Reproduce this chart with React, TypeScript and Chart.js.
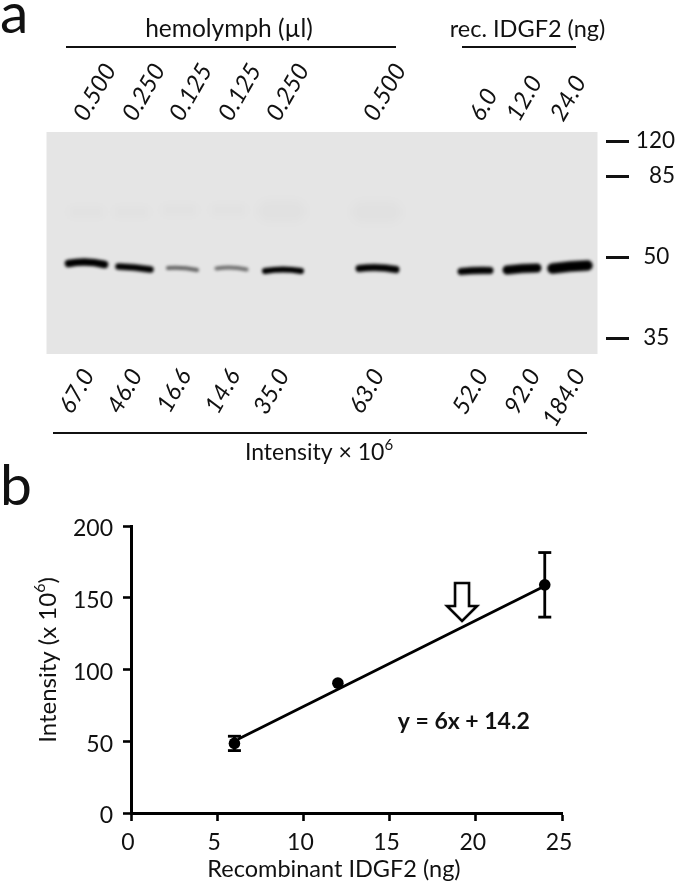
import React, { useEffect, useRef } from "react";
import { Chart, registerables } from "chart.js";

Chart.register(...registerables);

// ---- Panel a: blot ----
const doseHemolymph = ["0.500", "0.250", "0.125", "0.125", "0.250", "0.500"];
const doseRecombinant = ["6.0", "12.0", "24.0"];
const doseLabels = [...doseHemolymph, ...doseRecombinant];
const intensityLabels = ["67.0", "46.0", "16.6", "14.6", "35.0", "63.0", "52.0", "92.0", "184.0"];
const laneCentres = [40, 88, 136, 185, 236.5, 331, 429, 475.5, 523.5];
const bandMigration = [132, 136, 137, 137, 139, 137, 139, 137, 135];
const doseTickPositions = [58, 107, 154, 203, 251, 348, 454, 491, 535];
const intensityTickPositions = [42, 90, 139, 188, 237, 332, 436, 488, 533];
const markerKDa = [120, 85, 50, 35];
const markerMigration = [9, 44, 125, 206];
const smearLanes = [40, 85, 133, 182, 235, 330];
const smearMigration = [80, 80, 78, 78, 79, 80];

// ---- Panel b: calibration ----
const recombinantNg = [6, 12, 24];
const meanIntensity = [48.5, 90.5, 159];
const errorIntensity = [5, 0, 22.5];
const fitX = [6.2, 24];
const fitY = [51.4, 158.2];
const arrowAt = { x: 19.2, y: 147 };
const BLOT_W = 551;
const BLOT_H = 222;
const FONT = "Lato, Carlito, Calibri, sans-serif";

const bandShapes = [
  { w: 36, t: 7.5, tilt: 1, arch: -2 },
  { w: 32, t: 6.5, tilt: 3, arch: -0.5 },
  { w: 29, t: 4, tilt: 2, arch: -1 },
  { w: 30, t: 4, tilt: 1, arch: -1.5 },
  { w: 36, t: 6, tilt: 0, arch: -1.5 },
  { w: 37, t: 7, tilt: 1, arch: -1.5 },
  { w: 29, t: 7, tilt: -1, arch: -0.5 },
  { w: 30, t: 9, tilt: -2, arch: -0.5 },
  { w: 35, t: 10.5, tilt: -3, arch: -0.5 },
];

function bandSprite(shape: any, alpha: number, blur: number, color = "0,0,0") {
  const c = document.createElement("canvas");
  c.width = Math.ceil(shape.w + 40);
  c.height = Math.ceil(shape.t + 40);
  const g = c.getContext("2d")!;
  g.filter = `blur(${blur}px)`;
  g.strokeStyle = `rgba(${color},${alpha})`;
  g.lineCap = "round";
  g.lineWidth = shape.t;
  const cx = c.width / 2;
  const cy = c.height / 2;
  g.beginPath();
  g.moveTo(cx - shape.w / 2, cy - shape.tilt / 2);
  g.quadraticCurveTo(cx, cy + shape.arch * 2, cx + shape.w / 2, cy + shape.tilt / 2);
  g.stroke();
  return c;
}

function arrowSprite() {
  const c = document.createElement("canvas");
  c.width = 40;
  c.height = 46;
  const g = c.getContext("2d")!;
  const m = 20;
  g.fillStyle = "#fff";
  g.strokeStyle = "#000";
  g.lineWidth = 2.6;
  g.lineJoin = "miter";
  g.beginPath();
  g.moveTo(m - 7, 4);
  g.lineTo(m + 7, 4);
  g.lineTo(m + 7, 27);
  g.lineTo(m + 15, 27);
  g.lineTo(m, 42);
  g.lineTo(m - 15, 27);
  g.lineTo(m - 7, 27);
  g.closePath();
  g.fill();
  g.stroke();
  return c;
}

// draws base text followed by a raised exponent, both centred as one run
function textWithExponent(ctx: any, base: string, exp: string, tail: string, x: number, y: number, size: number) {
  const expSize = Math.round(size * 0.65);
  ctx.font = `normal ${size}px ${FONT}`;
  const a = ctx.measureText(base).width;
  const c = ctx.measureText(tail).width;
  ctx.font = `normal ${expSize}px ${FONT}`;
  const b = ctx.measureText(exp).width;
  let px = x - (a + b + c) / 2;
  ctx.textAlign = "left";
  ctx.textBaseline = "middle";
  ctx.font = `normal ${size}px ${FONT}`;
  ctx.fillText(base, px, y);
  px += a;
  ctx.font = `normal ${expSize}px ${FONT}`;
  ctx.fillText(exp, px, y - size * 0.32);
  px += b;
  ctx.font = `normal ${size}px ${FONT}`;
  if (tail) ctx.fillText(tail, px, y);
}

const blotDecor = {
  id: "blotDecor",
  beforeDatasetsDraw(chart: any) {
    const { ctx, scales } = chart;
    const x = scales.x;
    const y = scales.y;
    ctx.save();
    ctx.fillStyle = "#e5e5e5";
    ctx.fillRect(x.getPixelForValue(0), y.getPixelForValue(0), x.getPixelForValue(BLOT_W) - x.getPixelForValue(0), y.getPixelForValue(BLOT_H) - y.getPixelForValue(0));
    ctx.restore();
  },
  afterDraw(chart: any) {
    const { ctx } = chart;
    ctx.save();
    ctx.fillStyle = "#111";
    ctx.strokeStyle = "#111";
    ctx.textBaseline = "middle";
    ctx.textAlign = "center";
    ctx.font = `normal 24.5px ${FONT}`;
    ctx.fillText("hemolymph (µl)", 229, 29);
    ctx.font = `normal 23.5px ${FONT}`;
    ctx.fillText("rec. IDGF2 (ng)", 527.5, 29);
    textWithExponent(ctx, "Intensity × 10", "6", "", 319, 453, 23);
    ctx.lineWidth = 2;
    for (const [a, b, yy] of [[66, 396, 47], [462, 576, 47], [53, 587, 433]]) {
      ctx.beginPath();
      ctx.moveTo(a, yy);
      ctx.lineTo(b, yy);
      ctx.stroke();
    }
    ctx.font = `normal 57px ${FONT}`;
    ctx.textAlign = "left";
    ctx.textBaseline = "alphabetic";
    ctx.fillText("a", 0, 33);
    ctx.fillText("b", 0, 505);
    ctx.restore();
  },
};

const plotText = {
  id: "plotText",
  afterDraw(chart: any) {
    const { ctx, scales } = chart;
    ctx.save();
    ctx.fillStyle = "#111";
    ctx.font = `bold 23px ${FONT}`;
    ctx.textAlign = "center";
    ctx.textBaseline = "middle";
    ctx.fillText("y = 6x + 14.2", scales.x.getPixelForValue(19.3), scales.y.getPixelForValue(63.5));
    ctx.font = `normal 23.5px ${FONT}`;
    ctx.fillText("Recombinant IDGF2 (ng)", 334, 399);
    ctx.translate(48, 190);
    ctx.rotate(-Math.PI / 2);
    textWithExponent(ctx, "Intensity (x 10", "6", ")", 0, 0, 24);
    ctx.restore();
  },
};

function fixedTicks(positions: number[]) {
  return (scale: any) => {
    scale.ticks = positions.map((value) => ({ value }));
  };
}

export default function App() {
  const blotRef = useRef<HTMLCanvasElement>(null);
  const plotRef = useRef<HTMLCanvasElement>(null);

  useEffect(() => {
    document.body.style.margin = "0";
    const bandSprites = bandShapes.map((s, i) =>
      bandSprite(s, Math.min(1, 0.15 + parseFloat(intensityLabels[i]) / 40), 1.5)
    );
    const smearSprites = smearLanes.map((_, i) =>
      bandSprite({ w: i === 5 ? 30 : 28, t: i === 5 || i === 4 ? 22 : 10, tilt: 0, arch: 0 }, 0.014, 4)
    );

    const blot = new Chart(blotRef.current!, {
      type: "scatter",
      data: {
        datasets: [
          {
            label: "smear",
            data: smearLanes.map((x, i) => ({ x, y: smearMigration[i] })),
            pointStyle: smearSprites as any,
            pointRadius: 1,
            xAxisID: "x",
            yAxisID: "y",
          },
          {
            label: "bands",
            data: laneCentres.map((x, i) => ({ x, y: bandMigration[i] })),
            pointStyle: bandSprites as any,
            pointRadius: 1,
            xAxisID: "x",
            yAxisID: "y",
          },
        ],
      },
      options: {
        animation: false,
        responsive: false,
        layout: { padding: { left: 0, right: 0, top: 0, bottom: 0 } },
        plugins: { legend: { display: false }, tooltip: { enabled: false } },
        scales: {
          x: {
            type: "linear",
            position: "bottom",
            min: 0,
            max: 559.5,
            display: true,
            grid: { display: false },
            border: { display: false },
            afterBuildTicks: fixedTicks(intensityTickPositions),
            afterFit: (s: any) => { s.height = 156; },
            ticks: {
              autoSkip: false,
              minRotation: 60,
              maxRotation: 60,
              padding: 2,
              color: "#111",
              font: { family: FONT, size: 24, style: "italic" },
              callback: (_v: any, i: number) => intensityLabels[i],
            },
          },
          xTop: {
            type: "linear",
            position: "top",
            min: 0,
            max: 559.5,
            grid: { display: false },
            border: { display: false },
            afterBuildTicks: fixedTicks(doseTickPositions),
            afterFit: (s: any) => { s.height = 132; },
            ticks: {
              autoSkip: false,
              minRotation: 60,
              maxRotation: 60,
              padding: -2,
              color: "#111",
              font: { family: FONT, size: 24, style: "italic" },
              callback: (_v: any, i: number) => doseLabels[i],
            },
          },
          y: {
            type: "linear",
            position: "left",
            min: 0,
            max: BLOT_H,
            reverse: true,
            display: true,
            grid: { display: false },
            border: { display: false },
            ticks: { display: false },
            afterFit: (s: any) => { s.width = 46.5; },
          },
          yMarkers: {
            type: "linear",
            position: "right",
            min: 0,
            max: BLOT_H,
            reverse: true,
            border: { display: false },
            grid: { drawOnChartArea: false, drawTicks: true, tickLength: 23, tickWidth: 3, tickColor: "#111" },
            afterBuildTicks: fixedTicks(markerMigration),
            afterFit: (s: any) => { s.width = 69; },
            ticks: {
              autoSkip: false,
              padding: 4,
              crossAlign: "far",
              color: "#111",
              font: { family: FONT, size: 22.5 },
              callback: (_v: any, i: number) => (markerKDa[i] < 60 ? `${markerKDa[i]} ` : `${markerKDa[i]}`),
            },
          },
        },
      } as any,
      plugins: [blotDecor],
    });

    const errorPoints: any[] = [];
    recombinantNg.forEach((x, i) => {
      if (errorIntensity[i] > 0) {
        errorPoints.push({ x, y: meanIntensity[i] - errorIntensity[i] });
        errorPoints.push({ x, y: meanIntensity[i] + errorIntensity[i] });
        errorPoints.push({ x, y: null });
      }
    });

    const plot = new Chart(plotRef.current!, {
      type: "scatter",
      data: {
        datasets: [
          {
            label: "fit",
            data: fitX.map((x, i) => ({ x, y: fitY[i] })),
            showLine: true,
            borderColor: "#000",
            borderWidth: 2.8,
            pointRadius: 0,
          },
          {
            label: "error",
            data: errorPoints,
            showLine: true,
            spanGaps: false,
            borderColor: "#000",
            borderWidth: 2.8,
            pointStyle: "line",
            pointRadius: 6.5,
            pointBorderColor: "#000",
            pointBorderWidth: 2.8,
          },
          {
            label: "mean",
            data: recombinantNg.map((x, i) => ({ x, y: meanIntensity[i] })),
            pointStyle: "circle",
            pointRadius: 5.8,
            pointBackgroundColor: "#000",
            pointBorderColor: "#000",
            pointBorderWidth: 0,
          },
          {
            label: "arrow",
            data: [arrowAt],
            pointStyle: arrowSprite() as any,
            pointRadius: 1,
          },
        ],
      },
      options: {
        animation: false,
        responsive: false,
        layout: { padding: { left: 0, right: 113, top: 56, bottom: 0 } },
        plugins: { legend: { display: false }, tooltip: { enabled: false } },
        scales: {
          x: {
            type: "linear",
            min: 0,
            max: 25,
            grid: { drawOnChartArea: false, drawTicks: true, tickLength: 8, tickWidth: 2.6, tickColor: "#000" },
            border: { display: true, color: "#000", width: 3 },
            afterFit: (s: any) => { s.height = 71; },
            ticks: { stepSize: 5, padding: 8, labelOffset: -3, color: "#111", font: { family: FONT, size: 23 } },
          },
          y: {
            type: "linear",
            min: 0,
            max: 200,
            grid: { drawOnChartArea: false, drawTicks: true, tickLength: 8, tickWidth: 2.6, tickColor: "#000" },
            border: { display: true, color: "#000", width: 3 },
            afterFit: (s: any) => { s.width = 131; },
            ticks: { stepSize: 50, padding: 10, labelOffset: 3, color: "#111", font: { family: FONT, size: 23 } },
          },
        },
      } as any,
      plugins: [plotText],
    });

    return () => {
      blot.destroy();
      plot.destroy();
    };
  }, []);

  return (
    <div style={{ position: "relative", width: 675, height: 884, background: "#fff", overflow: "hidden" }}>
      <canvas ref={blotRef} width={675} height={510} style={{ position: "absolute", left: 0, top: 0, width: 675, height: 510 }} />
      <canvas ref={plotRef} width={675} height={414} style={{ position: "absolute", left: 0, top: 470, width: 675, height: 414 }} />
    </div>
  );
}
